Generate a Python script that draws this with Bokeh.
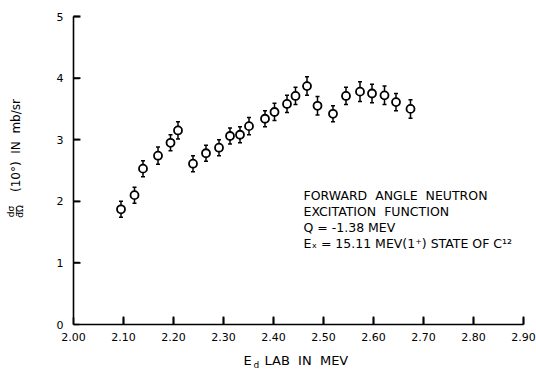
import math
from bokeh.plotting import figure
from bokeh.models import ColumnDataSource, Label, FixedTicker, Range1d
from bokeh.embed import file_html
from bokeh.resources import INLINE

# ---- data ----
energy = [2.095, 2.122, 2.139, 2.169, 2.194, 2.209, 2.239, 2.265, 2.291, 2.313,
          2.333, 2.351, 2.383, 2.402, 2.427, 2.444, 2.467, 2.488, 2.519, 2.545,
          2.573, 2.597, 2.622, 2.645, 2.674]
sigma = [1.87, 2.10, 2.53, 2.74, 2.95, 3.15, 2.61, 2.78, 2.87, 3.06,
         3.08, 3.22, 3.34, 3.45, 3.58, 3.71, 3.87, 3.55, 3.42, 3.71,
         3.78, 3.75, 3.72, 3.61, 3.50]
error = [0.13, 0.13, 0.13, 0.14, 0.13, 0.14, 0.13, 0.13, 0.13, 0.13,
         0.13, 0.14, 0.13, 0.14, 0.14, 0.14, 0.15, 0.15, 0.13, 0.14,
         0.16, 0.15, 0.15, 0.14, 0.15]
x_ticks = [2.0, 2.1, 2.2, 2.3, 2.4, 2.5, 2.6, 2.7, 2.8, 2.9]
x_tick_labels = ["2.00", "2.10", "2.20", "2.30", "2.40", "2.50", "2.60", "2.70", "2.80", "2.90"]
y_ticks = [0, 1, 2, 3, 4, 5]
y_tick_labels = ["0", "1", "2", "3", "4", "5"]
x_bounds = (2.0, 2.9)
y_bounds = (0, 5)

lower = [s - e for s, e in zip(sigma, error)]
upper = [s + e for s, e in zip(sigma, error)]
src = ColumnDataSource(dict(x=energy, y=sigma, lo=lower, hi=upper))

FONT = "DejaVu Sans"
NB = "\u00a0"  # keeps the wide word spacing of the lettering


# pixel -> data helpers, used only for placing the frame extent and text labels
def X(px):
    return 2.0 + (px - 73) / 500.0


def Y(py):
    return (324 - py) / 61.6


p = figure(width=536, height=370, output_backend="svg", toolbar_location=None,
           x_range=Range1d(X(0), X(536)), y_range=Range1d(Y(370), Y(0)),
           min_border=0)
p.outline_line_color = None
p.xgrid.visible = False
p.ygrid.visible = False
p.background_fill_color = "white"
p.border_fill_color = "white"

p.xaxis.fixed_location = y_bounds[0]
p.yaxis.fixed_location = x_bounds[0]
p.xaxis.bounds = x_bounds
p.yaxis.bounds = y_bounds
p.xaxis.ticker = FixedTicker(ticks=x_ticks, minor_ticks=[])
p.yaxis.ticker = FixedTicker(ticks=y_ticks, minor_ticks=[])
p.xaxis.major_label_overrides = {t: l for t, l in zip(x_ticks, x_tick_labels)}
p.yaxis.major_label_overrides = {t: l for t, l in zip(y_ticks, y_tick_labels)}

for ax in (p.xaxis[0], p.yaxis[0]):
    ax.axis_line_width = 1.6
    ax.axis_line_color = "black"
    ax.major_tick_line_width = 1.6
    ax.major_tick_line_color = "black"
    ax.major_tick_out = 0
    ax.minor_tick_line_color = None
    ax.major_label_text_font = FONT
    ax.major_label_text_font_size = "11px"
    ax.major_label_text_color = "black"

p.xaxis[0].major_tick_in = 7
p.yaxis[0].major_tick_in = 6
p.xaxis[0].major_label_standoff = 8
p.yaxis[0].major_label_standoff = 10

# inward tick marks at the tick values
p.ray(x=x_ticks[1:], y=[y_bounds[0]] * (len(x_ticks) - 1), length=8, length_units="screen",
      angle=math.pi / 2, line_color="black", line_width=1.8)
p.ray(x=[x_bounds[0]] * (len(y_ticks) - 1), y=y_ticks[1:], length=7, length_units="screen",
      angle=0, line_color="black", line_width=1.8)

# error bars
p.segment(x0="x", y0="lo", x1="x", y1="hi", source=src, line_color="black", line_width=1.5)
p.scatter(x="x", y="lo", source=src, marker="dash", size=4, line_color="black", line_width=1.5)
p.scatter(x="x", y="hi", source=src, marker="dash", size=4, line_color="black", line_width=1.5)
# points
p.scatter(x="x", y="y", source=src, marker="circle", size=8,
          fill_color="white", line_color="black", line_width=1.8)


def lab(text, px, py, size="12.5px", align="left", angle=0.0, baseline="middle"):
    p.add_layout(Label(x=X(px), y=Y(py), text=text, text_font=FONT, text_font_size=size,
                       text_align=align, text_baseline=baseline, angle=angle,
                       text_color="black"))


def sp(s):
    return s.replace("  ", " " + NB)


# annotation block
lab(sp("FORWARD  ANGLE  NEUTRON"), 303, 195)
lab(sp("EXCITATION  FUNCTION"), 303, 211)
lab("Q = -1.38 MEV", 303, 227)
lab("Eₓ = 15.11 MEV(1⁺) STATE OF C¹²", 303, 243)

# x-axis title
lab("E", 243, 360, size="13px")
lab("d", 253, 364, size="9px")
lab(sp("LAB  IN  MEV"), 264, 360, size="13px")

# y-axis title (rotated)
lab(sp("(10°)  IN  mb/sr"), 15, 145, size="12px", align="center", angle=math.pi / 2)
lab("dσ", 10, 211, size="9px", align="center", angle=math.pi / 2)
lab("—", 14.5, 211, size="10px", align="center", angle=math.pi / 2)
lab("dΩ", 19, 211, size="9px", align="center", angle=math.pi / 2)

open("out.html", "w").write(file_html(p, INLINE))
